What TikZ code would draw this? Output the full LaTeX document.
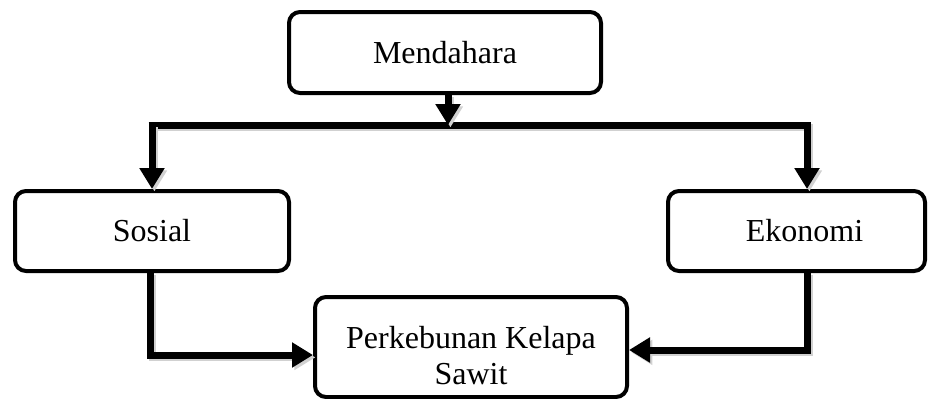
\documentclass[tikz,border=0pt]{standalone}
\usepackage{fontspec}
\setmainfont{Liberation Serif}
\usetikzlibrary{arrows.meta}
\begin{document}
\begin{tikzpicture}[x=0.5pt,y=-0.5pt,
  box/.style={draw=black, line width=2pt, rounded corners=5.5pt, fill=white, align=center, inner sep=0pt, font=\fontsize{16pt}{18pt}\selectfont},
  lbl/.style={align=center, inner sep=0pt, font=\fontsize{16pt}{18pt}\selectfont},
  shad/.style={preaction={draw=black!18, line width=3.5pt, transform canvas={shift={(1.2pt,-1.2pt)}}}},
  conn/.style={shad, line width=3.5pt, -{Triangle[width=12pt,length=10.5pt]}},
  plain/.style={shad, line width=3.5pt}]
\useasboundingbox (0,0) rectangle (932,398);
\coordinate (j) at (448,125);
\coordinate (jl) at (152,125);
\coordinate (jr) at (807,125);
\coordinate (bl) at (150,355);
\coordinate (br) at (807,350);
\draw[plain] ([xshift=-1.75pt]jl) -- ([xshift=1.75pt]jr);
\node[box, minimum width=156pt, minimum height=40.5pt] (M) at (445,52.5) {Mendahara};
\node[box, minimum width=137pt, minimum height=40pt] (S) at (152,231) {Sosial};
\node[box, minimum width=128.5pt, minimum height=40pt] (E) at (796.5,231) {\hspace*{8pt}Ekonomi};
\node[box, minimum width=156pt, minimum height=50pt,
  label={[lbl, yshift=-4.5pt]center:Perkebunan Kelapa\\Sawit}] (P) at (471,347) {};
\draw[conn] (M.south -| j) -- (j);
\draw[conn] (jl) -- (jl |- S.north);
\draw[conn] (jr) -- (jr |- E.north);
\draw[conn] (bl |- S.south) -- (bl) -- (bl -| P.west);
\draw[conn] (br |- E.south) -- (br) -- (br -| P.east);
\end{tikzpicture}
\end{document}
